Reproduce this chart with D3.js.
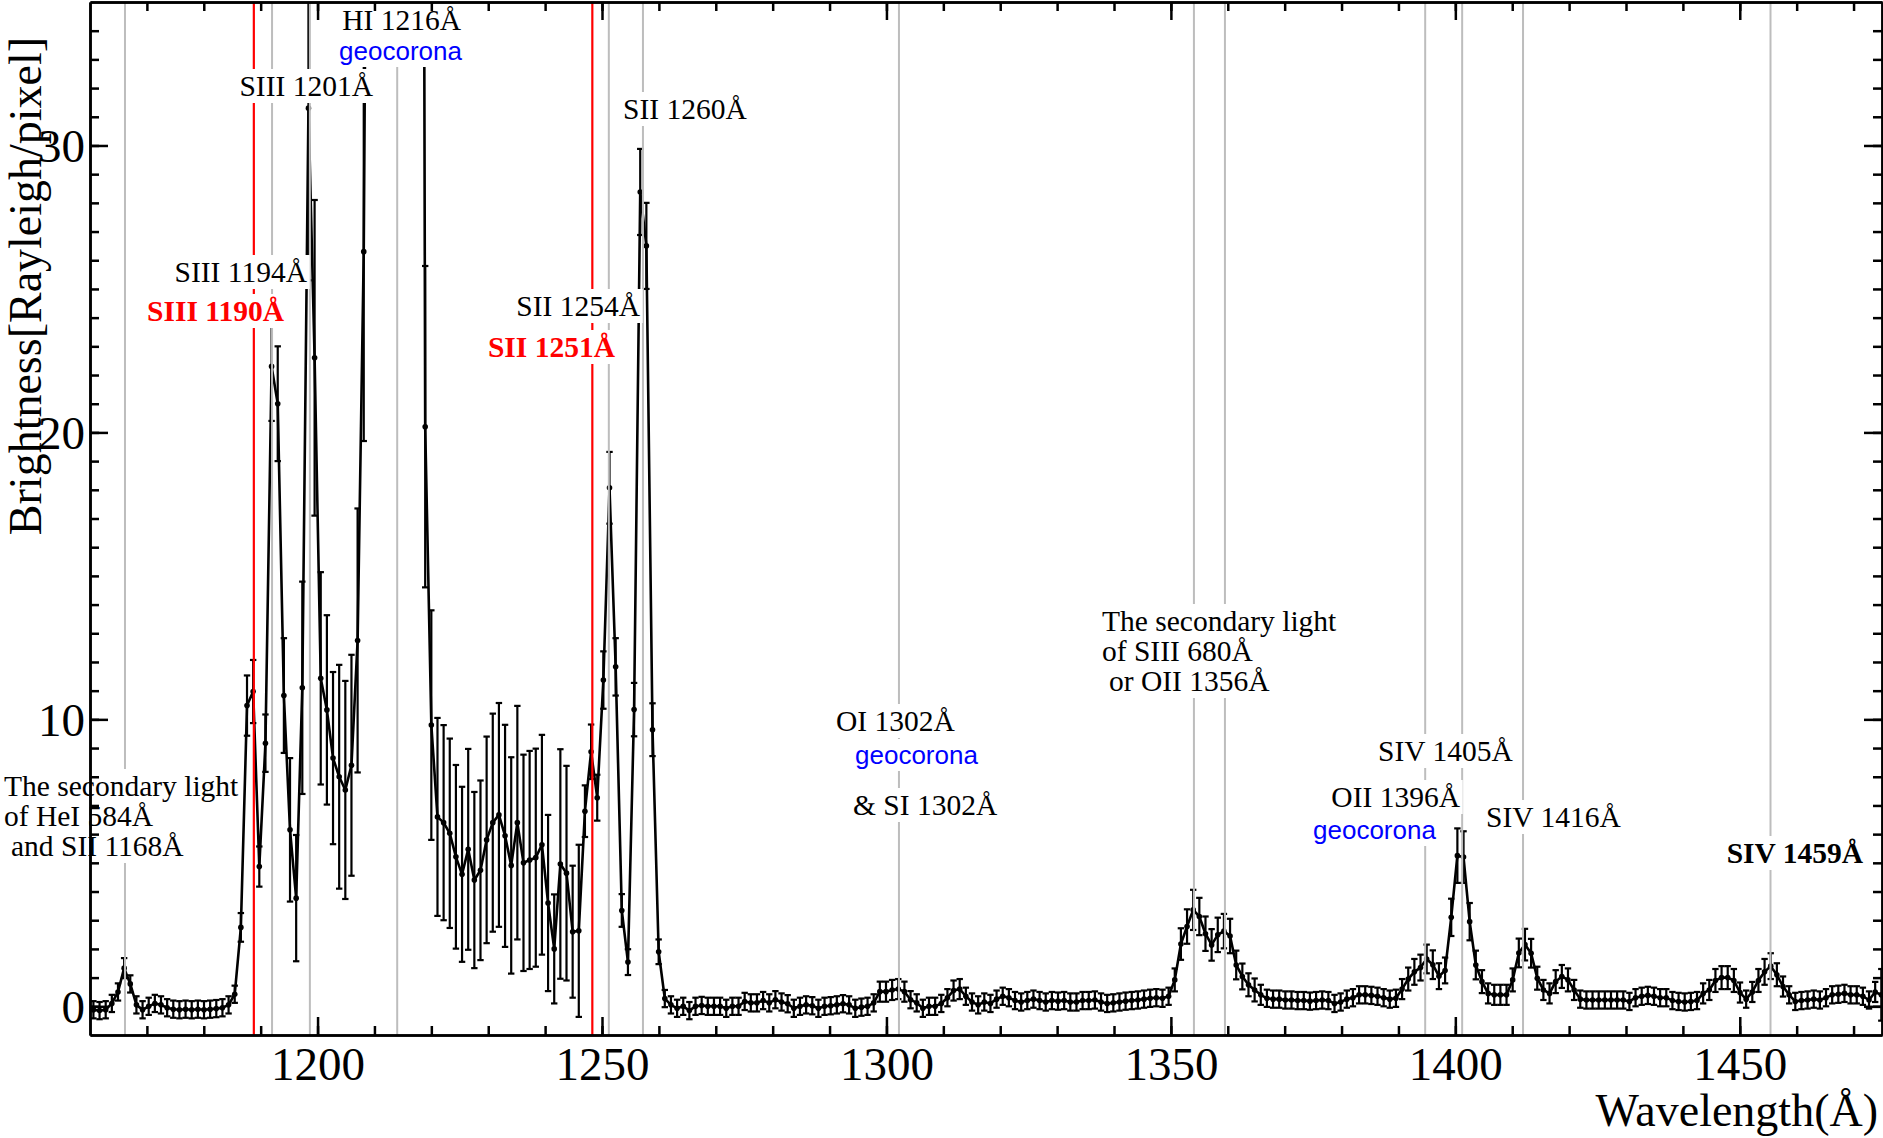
<!DOCTYPE html>
<html>
<head>
<meta charset="utf-8">
<script src="https://cdn.jsdelivr.net/npm/d3@7"></script>
<style>
	body { margin: 0; background: #fff; }
	svg { display: block; }
</style>
</head>
<body>
<svg id="chart" width="1883" height="1138"></svg>
<script>
// detector pixel grid, wavelength in angstrom
var wavelength = [
	1160.60, 1161.68, 1162.76, 1163.84, 1164.92, 1166.00, 1167.08, 1168.16, 1169.24, 1170.32, 1171.40, 1172.48, 1173.56, 1174.64, 1175.72, 1176.80, 1177.88, 1178.96, 1180.04, 1181.12, 1182.20, 1183.28, 1184.36, 1185.44, 1186.52,
	1187.60, 1188.68, 1189.76, 1190.84, 1191.92, 1193.00, 1194.08, 1195.16, 1196.24, 1197.32, 1198.40, 1199.48, 1200.56, 1201.64, 1202.72, 1203.80, 1204.88, 1205.96, 1207.04, 1208.12, 1209.20, 1210.28, 1211.36, 1212.44, 1213.52,
	1214.60, 1215.68, 1216.76, 1217.84, 1218.92, 1220.00, 1221.08, 1222.16, 1223.24, 1224.32, 1225.40, 1226.48, 1227.56, 1228.64, 1229.72, 1230.80, 1231.88, 1232.96, 1234.04, 1235.12, 1236.20, 1237.28, 1238.36, 1239.44, 1240.52,
	1241.60, 1242.68, 1243.76, 1244.84, 1245.92, 1247.00, 1248.08, 1249.16, 1250.24, 1251.32, 1252.40, 1253.48, 1254.56, 1255.64, 1256.72, 1257.80, 1258.88, 1259.96, 1261.04, 1262.12, 1263.20, 1264.28, 1265.36, 1266.44, 1267.52,
	1268.60, 1269.68, 1270.76, 1271.84, 1272.92, 1274.00, 1275.08, 1276.16, 1277.24, 1278.32, 1279.40, 1280.48, 1281.56, 1282.64, 1283.72, 1284.80, 1285.88, 1286.96, 1288.04, 1289.12, 1290.20, 1291.28, 1292.36, 1293.44, 1294.52,
	1295.60, 1296.68, 1297.76, 1298.84, 1299.92, 1301.00, 1302.08, 1303.16, 1304.24, 1305.32, 1306.40, 1307.48, 1308.56, 1309.64, 1310.72, 1311.80, 1312.88, 1313.96, 1315.04, 1316.12, 1317.20, 1318.28, 1319.36, 1320.44, 1321.52,
	1322.60, 1323.68, 1324.76, 1325.84, 1326.92, 1328.00, 1329.08, 1330.16, 1331.24, 1332.32, 1333.40, 1334.48, 1335.56, 1336.64, 1337.72, 1338.80, 1339.88, 1340.96, 1342.04, 1343.12, 1344.20, 1345.28, 1346.36, 1347.44, 1348.52,
	1349.60, 1350.68, 1351.76, 1352.84, 1353.92, 1355.00, 1356.08, 1357.16, 1358.24, 1359.32, 1360.40, 1361.48, 1362.56, 1363.64, 1364.72, 1365.80, 1366.88, 1367.96, 1369.04, 1370.12, 1371.20, 1372.28, 1373.36, 1374.44, 1375.52,
	1376.60, 1377.68, 1378.76, 1379.84, 1380.92, 1382.00, 1383.08, 1384.16, 1385.24, 1386.32, 1387.40, 1388.48, 1389.56, 1390.64, 1391.72, 1392.80, 1393.88, 1394.96, 1396.04, 1397.12, 1398.20, 1399.28, 1400.36, 1401.44, 1402.52,
	1403.60, 1404.68, 1405.76, 1406.84, 1407.92, 1409.00, 1410.08, 1411.16, 1412.24, 1413.32, 1414.40, 1415.48, 1416.56, 1417.64, 1418.72, 1419.80, 1420.88, 1421.96, 1423.04, 1424.12, 1425.20, 1426.28, 1427.36, 1428.44, 1429.52,
	1430.60, 1431.68, 1432.76, 1433.84, 1434.92, 1436.00, 1437.08, 1438.16, 1439.24, 1440.32, 1441.40, 1442.48, 1443.56, 1444.64, 1445.72, 1446.80, 1447.88, 1448.96, 1450.04, 1451.12, 1452.20, 1453.28, 1454.36, 1455.44, 1456.52,
	1457.60, 1458.68, 1459.76, 1460.84, 1461.92, 1463.00, 1464.08, 1465.16, 1466.24, 1467.32, 1468.40, 1469.48, 1470.56, 1471.64, 1472.72, 1473.80, 1474.88
];

// brightness per pixel [Rayleigh/pixel]
var brightness = [
	-0.12, -0.15, -0.12, 0.10, 0.50, 1.33, 0.78, 0.05, -0.12, 0.00, 0.10, 0.05, -0.05, -0.10, -0.12, -0.10, -0.12, -0.10, -0.12, -0.10, -0.08, -0.05, 0.05, 0.42, 2.75,
	10.48, 10.97, 4.87, 9.17, 22.3, 21.0, 10.83, 6.15, 3.77, 11.1, 31.3, 22.6, 11.43, 10.33, 8.65, 8.0, 7.54, 8.4, 12.75, 26.3, 60, 160, 420, 900, 1500,
	1600, 1000, 420, 110, 20.2, 9.80, 6.60, 6.40, 6.03, 5.21, 4.60, 5.47, 4.40, 4.74, 5.80, 6.40, 6.67, 5.94, 4.91, 6.40, 5.00, 5.10, 5.18, 5.63, 3.60,
	2.00, 4.96, 4.64, 2.60, 2.63, 6.80, 8.87, 7.27, 11.37, 18.07, 11.83, 3.34, 1.54, 10.34, 28.38, 26.5, 9.64, 1.90, 0.27, 0.05, -0.07, 0.00, -0.15, 0.00, 0.03,
	0.00, 0.00, 0.00, -0.07, 0.00, 0.00, 0.17, 0.12, 0.12, 0.20, 0.12, 0.23, 0.15, 0.09, -0.07, 0.00, 0.05, 0.02, -0.07, 0.00, 0.02, 0.05, 0.09, 0.05, -0.07,
	-0.03, 0.00, 0.12, 0.51, 0.51, 0.57, 0.60, 0.51, 0.23, 0.12, -0.07, 0.00, 0.00, 0.10, 0.30, 0.55, 0.60, 0.35, 0.15, 0.05, 0.15, 0.10, 0.25, 0.35, 0.30,
	0.20, 0.15, 0.20, 0.25, 0.20, 0.15, 0.20, 0.18, 0.20, 0.15, 0.15, 0.20, 0.20, 0.22, 0.15, 0.10, 0.12, 0.15, 0.18, 0.20, 0.22, 0.25, 0.28, 0.30, 0.28,
	0.35, 0.92, 2.17, 2.78, 3.36, 3.13, 2.53, 2.14, 2.49, 2.62, 2.45, 1.44, 1.04, 0.75, 0.57, 0.40, 0.28, 0.25, 0.25, 0.22, 0.22, 0.20, 0.20, 0.18, 0.20,
	0.22, 0.20, 0.10, 0.15, 0.25, 0.30, 0.40, 0.40, 0.38, 0.35, 0.30, 0.25, 0.28, 0.60, 0.95, 1.20, 1.35, 1.65, 1.45, 1.05, 1.25, 3.10, 5.25, 5.20, 2.95,
	1.44, 0.86, 0.45, 0.40, 0.40, 0.40, 0.92, 1.86, 2.15, 1.85, 0.98, 0.57, 0.45, 0.86, 1.04, 0.92, 0.57, 0.25, 0.22, 0.22, 0.22, 0.22, 0.22, 0.22, 0.22,
	0.17, 0.30, 0.35, 0.38, 0.35, 0.30, 0.30, 0.20, 0.17, 0.15, 0.17, 0.20, 0.45, 0.57, 0.90, 1.00, 1.00, 0.90, 0.48, 0.25, 0.50, 0.90, 1.20, 1.40, 1.10,
	0.69, 0.40, 0.17, 0.20, 0.22, 0.25, 0.22, 0.30, 0.40, 0.42, 0.45, 0.40, 0.40, 0.35, 0.22, 0.50, 0.40
];

// 1 sigma error per pixel (0 = saturated Ly-alpha, no bar)
var brightnessErr = [
	0.3, 0.3, 0.3, 0.3, 0.3, 0.35, 0.3, 0.3, 0.3, 0.3, 0.3, 0.3, 0.3, 0.3, 0.3, 0.3, 0.3, 0.3, 0.3, 0.3, 0.3, 0.3, 0.3, 0.3, 0.5,
	1.05, 1.1, 0.7, 1.0, 1.9, 2.0, 2.0, 2.5, 2.2, 3.7, 6.0, 5.5, 3.7, 3.3, 3.0, 3.9, 3.8, 3.85, 4.6, 6.6, 0, 0, 0, 0, 0,
	0, 0, 0, 0, 5.6, 4.0, 3.45, 3.4, 3.3, 3.2, 3.05, 3.5, 3.07, 3.13, 3.6, 3.8, 3.9, 3.87, 3.77, 4.07, 3.77, 3.8, 3.8, 3.83, 3.07,
	1.9, 4.0, 3.74, 2.3, 3.0, 0.9, 0.95, 0.8, 1.0, 1.25, 1.0, 0.57, 0.45, 0.93, 1.5, 1.5, 0.92, 0.43, 0.3, 0.3, 0.3, 0.3, 0.3, 0.3, 0.3,
	0.3, 0.3, 0.3, 0.3, 0.3, 0.3, 0.3, 0.3, 0.3, 0.3, 0.3, 0.3, 0.3, 0.3, 0.3, 0.3, 0.3, 0.3, 0.3, 0.3, 0.3, 0.3, 0.3, 0.3, 0.3,
	0.3, 0.3, 0.3, 0.35, 0.35, 0.35, 0.35, 0.35, 0.3, 0.3, 0.3, 0.3, 0.3, 0.3, 0.3, 0.35, 0.35, 0.3, 0.3, 0.3, 0.3, 0.3, 0.3, 0.3, 0.3,
	0.3, 0.3, 0.3, 0.3, 0.3, 0.3, 0.3, 0.3, 0.3, 0.3, 0.3, 0.3, 0.3, 0.3, 0.3, 0.3, 0.3, 0.3, 0.3, 0.3, 0.3, 0.3, 0.3, 0.3, 0.3,
	0.3, 0.4, 0.55, 0.6, 0.7, 0.65, 0.6, 0.55, 0.6, 0.6, 0.6, 0.5, 0.45, 0.4, 0.4, 0.35, 0.3, 0.3, 0.3, 0.3, 0.3, 0.3, 0.3, 0.3, 0.3,
	0.3, 0.3, 0.3, 0.3, 0.3, 0.3, 0.3, 0.3, 0.3, 0.3, 0.3, 0.3, 0.3, 0.35, 0.4, 0.45, 0.45, 0.5, 0.5, 0.45, 0.45, 0.65, 0.95, 0.9, 0.65,
	0.5, 0.4, 0.35, 0.35, 0.35, 0.35, 0.4, 0.5, 0.55, 0.5, 0.4, 0.35, 0.35, 0.4, 0.4, 0.4, 0.35, 0.3, 0.3, 0.3, 0.3, 0.3, 0.3, 0.3, 0.3,
	0.3, 0.3, 0.3, 0.3, 0.3, 0.3, 0.3, 0.3, 0.3, 0.3, 0.3, 0.3, 0.35, 0.35, 0.4, 0.4, 0.4, 0.4, 0.35, 0.3, 0.35, 0.4, 0.45, 0.45, 0.4,
	0.35, 0.3, 0.3, 0.3, 0.3, 0.3, 0.3, 0.3, 0.3, 0.3, 0.3, 0.3, 0.3, 0.3, 0.3, 0.35, 0.9
];

// emission line markers
var greyLines = [ 1166.15, 1192.0, 1198.65, 1214.0, 1251.2, 1257.2, 1302.2, 1354.05, 1359.5, 1394.7, 1401.2, 1411.9, 1455.4 ];
var redLines = [ 1188.8, 1248.3 ];

var xMajorTicks = [ 1200, 1250, 1300, 1350, 1400, 1450 ];
var yMajorTicks = [ 0, 10, 20, 30 ];

var serif = '"Liberation Serif", "Times New Roman", Times, serif',
	sans = '"Liberation Sans", Arial, Helvetica, sans-serif';

// annotations: text, anchor point, colour
var labels = [
	{ t : 'The secondary light', x : 4, y : 796, a : 'start' },
	{ t : 'of HeI 584Å', x : 4, y : 826, a : 'start' },
	{ t : 'and SII 1168Å', x : 11, y : 856, a : 'start' },
	{ t : 'SIII 1194Å', x : 307, y : 282, a : 'end' },
	{ t : 'SIII 1190Å', x : 284, y : 321, a : 'end', c : '#ff0000', b : true },
	{ t : 'SIII 1201Å', x : 373, y : 96, a : 'end' },
	{ t : 'HI 1216Å', x : 461, y : 30, a : 'end' },
	{ t : 'geocorona', x : 462, y : 60, a : 'end', c : '#0000ff', s : true },
	{ t : 'SII 1254Å', x : 640, y : 316, a : 'end' },
	{ t : 'SII 1251Å', x : 615, y : 357, a : 'end', c : '#ff0000', b : true },
	{ t : 'SII 1260Å', x : 623, y : 119, a : 'start' },
	{ t : 'OI 1302Å', x : 836, y : 731, a : 'start' },
	{ t : 'geocorona', x : 855, y : 764, a : 'start', c : '#0000ff', s : true },
	{ t : '& SI 1302Å', x : 853, y : 815, a : 'start' },
	{ t : 'The secondary light', x : 1102, y : 631, a : 'start' },
	{ t : 'of SIII 680Å', x : 1102, y : 661, a : 'start' },
	{ t : 'or OII 1356Å', x : 1109, y : 691, a : 'start' },
	{ t : 'SIV 1405Å', x : 1378, y : 761, a : 'start' },
	{ t : 'OII 1396Å', x : 1460, y : 807, a : 'end' },
	{ t : 'geocorona', x : 1313, y : 839, a : 'start', c : '#0000ff', s : true },
	{ t : 'SIV 1416Å', x : 1486, y : 827, a : 'start' },
	{ t : 'SIV 1459Å', x : 1863, y : 863, a : 'end', b : true }
];

var svg = d3.select( '#chart' );
svg.append( 'rect' ).attr( 'width', 1883 ).attr( 'height', 1138 ).attr( 'fill', '#fff' );

var x = d3.scaleLinear().domain( [ 1160, 1475 ] ).range( [ 90, 1882 ] ),
	y = d3.scaleLinear().domain( [ -1, 35 ] ).range( [ 1035, 2 ] );

svg.append( 'clipPath' ).attr( 'id', 'plotClip' )
	.append( 'rect' )
	.attr( 'x', x.range()[ 0 ] ).attr( 'y', y.range()[ 1 ] )
	.attr( 'width', x.range()[ 1 ] - x.range()[ 0 ] )
	.attr( 'height', y.range()[ 0 ] - y.range()[ 1 ] );

var spectrum = wavelength.map( function( w, i ) {
	return { w : w, v : brightness[ i ], e : brightnessErr[ i ] };
} );

var plot = svg.append( 'g' ).attr( 'clip-path', 'url(#plotClip)' );

// error bars
var bars = plot.append( 'g' ).attr( 'stroke', '#000' ).attr( 'stroke-width', 2.2 )
	.selectAll( 'g' ).data( spectrum.filter( function( d ) { return d.e > 0; } ) )
	.enter().append( 'g' );
bars.append( 'line' )
	.attr( 'x1', function( d ) { return x( d.w ); } )
	.attr( 'x2', function( d ) { return x( d.w ); } )
	.attr( 'y1', function( d ) { return y( d.v - d.e ); } )
	.attr( 'y2', function( d ) { return y( d.v + d.e ); } );
[ -1, 1 ].forEach( function( sgn ) {
	bars.append( 'line' )
		.attr( 'x1', function( d ) { return x( d.w ) - 3.2; } )
		.attr( 'x2', function( d ) { return x( d.w ) + 3.2; } )
		.attr( 'y1', function( d ) { return y( d.v + sgn * d.e ); } )
		.attr( 'y2', function( d ) { return y( d.v + sgn * d.e ); } );
} );

// spectrum line + markers
plot.append( 'path' ).datum( spectrum )
	.attr( 'fill', 'none' ).attr( 'stroke', '#000' ).attr( 'stroke-width', 2.6 )
	.attr( 'stroke-linejoin', 'round' )
	.attr( 'd', d3.line().x( function( d ) { return x( d.w ); } ).y( function( d ) { return y( d.v ); } ) );

plot.append( 'g' ).selectAll( 'circle' ).data( spectrum )
	.enter().append( 'circle' )
	.attr( 'cx', function( d ) { return x( d.w ); } )
	.attr( 'cy', function( d ) { return y( d.v ); } )
	.attr( 'r', 2.8 ).attr( 'fill', '#000' );

// line identifications
plot.append( 'g' ).selectAll( 'line' ).data( greyLines )
	.enter().append( 'line' )
	.attr( 'x1', function( d ) { return x( d ); } ).attr( 'x2', function( d ) { return x( d ); } )
	.attr( 'y1', y.range()[ 0 ] ).attr( 'y2', y.range()[ 1 ] )
	.attr( 'stroke', '#bdbdbd' ).attr( 'stroke-width', 2 );

plot.append( 'g' ).selectAll( 'line' ).data( redLines )
	.enter().append( 'line' )
	.attr( 'x1', function( d ) { return x( d ); } ).attr( 'x2', function( d ) { return x( d ); } )
	.attr( 'y1', y.range()[ 0 ] ).attr( 'y2', y.range()[ 1 ] )
	.attr( 'stroke', '#ff0000' ).attr( 'stroke-width', 2.2 );

// labels with white boxes behind
var labelLayer = svg.append( 'g' );
labels.forEach( function( d ) {
	var g = labelLayer.append( 'g' );
	var box = g.append( 'rect' ).attr( 'fill', '#ffffff' ).attr( 'stroke', 'none' );
	var t = g.append( 'text' )
		.attr( 'x', d.x ).attr( 'y', d.y )
		.attr( 'text-anchor', d.a )
		.attr( 'font-family', d.s ? sans : serif )
		.attr( 'font-size', d.s ? 26 : 29.5 )
		.attr( 'font-weight', d.b ? 'bold' : 'normal' )
		.attr( 'fill', d.c || '#000' )
		.text( d.t );
	var bb = t.node().getBBox();
	box.attr( 'x', bb.x - 2 ).attr( 'y', bb.y - 1 )
		.attr( 'width', bb.width + 4 ).attr( 'height', bb.height + 2 );
} );

// axes, ticks on all four sides pointing inward
var axes = svg.append( 'g' );
function frame( axis, tx, ty ) {
	var g = axes.append( 'g' ).attr( 'transform', 'translate(' + tx + ',' + ty + ')' ).call( axis );
	g.selectAll( 'path, line' ).attr( 'stroke', '#000' ).attr( 'stroke-width', 2.5 );
	g.attr( 'font-family', serif ).attr( 'font-size', 47 );
	g.selectAll( 'text' ).attr( 'fill', '#000' );
	return g;
}
var xMinor = d3.range( 1170, 1475, 10 ),
	yMinor = d3.range( 0, 35, 1 );

frame( d3.axisBottom( x ).tickValues( xMinor ).tickSize( -9 ).tickSizeOuter( 0 ).tickFormat( '' ), 0, 1035 );
frame( d3.axisBottom( x ).tickValues( xMajorTicks ).tickSize( -18 ).tickSizeOuter( 0 ).tickFormat( d3.format( 'd' ) ), 0, 1035 )
	.selectAll( 'text' ).attr( 'y', 45 ).attr( 'dy', null );
frame( d3.axisTop( x ).tickValues( xMinor ).tickSize( -9 ).tickSizeOuter( 0 ).tickFormat( '' ), 0, 2 );
frame( d3.axisTop( x ).tickValues( xMajorTicks ).tickSize( -18 ).tickSizeOuter( 0 ).tickFormat( '' ), 0, 2 );

frame( d3.axisLeft( y ).tickValues( yMinor ).tickSize( -9 ).tickSizeOuter( 0 ).tickFormat( '' ), 90, 0 );
frame( d3.axisLeft( y ).tickValues( yMajorTicks ).tickSize( -18 ).tickSizeOuter( 0 ).tickPadding( 5 ).tickFormat( d3.format( 'd' ) ), 90, 0 )
	.selectAll( 'text' ).attr( 'dy', '0.34em' );
frame( d3.axisRight( y ).tickValues( yMinor ).tickSize( -9 ).tickSizeOuter( 0 ).tickFormat( '' ), 1882, 0 );
frame( d3.axisRight( y ).tickValues( yMajorTicks ).tickSize( -18 ).tickSizeOuter( 0 ).tickFormat( '' ), 1882, 0 );

// axis titles
svg.append( 'text' )
	.attr( 'transform', 'translate(41,286) rotate(-90)' )
	.attr( 'text-anchor', 'middle' )
	.attr( 'font-family', serif ).attr( 'font-size', 46 )
	.text( 'Brightness[Rayleigh/pixel]' );

svg.append( 'text' )
	.attr( 'x', 1878 ).attr( 'y', 1126 )
	.attr( 'text-anchor', 'end' )
	.attr( 'font-family', serif ).attr( 'font-size', 46 )
	.text( 'Wavelength(Å)' );
</script>
</body>
</html>
